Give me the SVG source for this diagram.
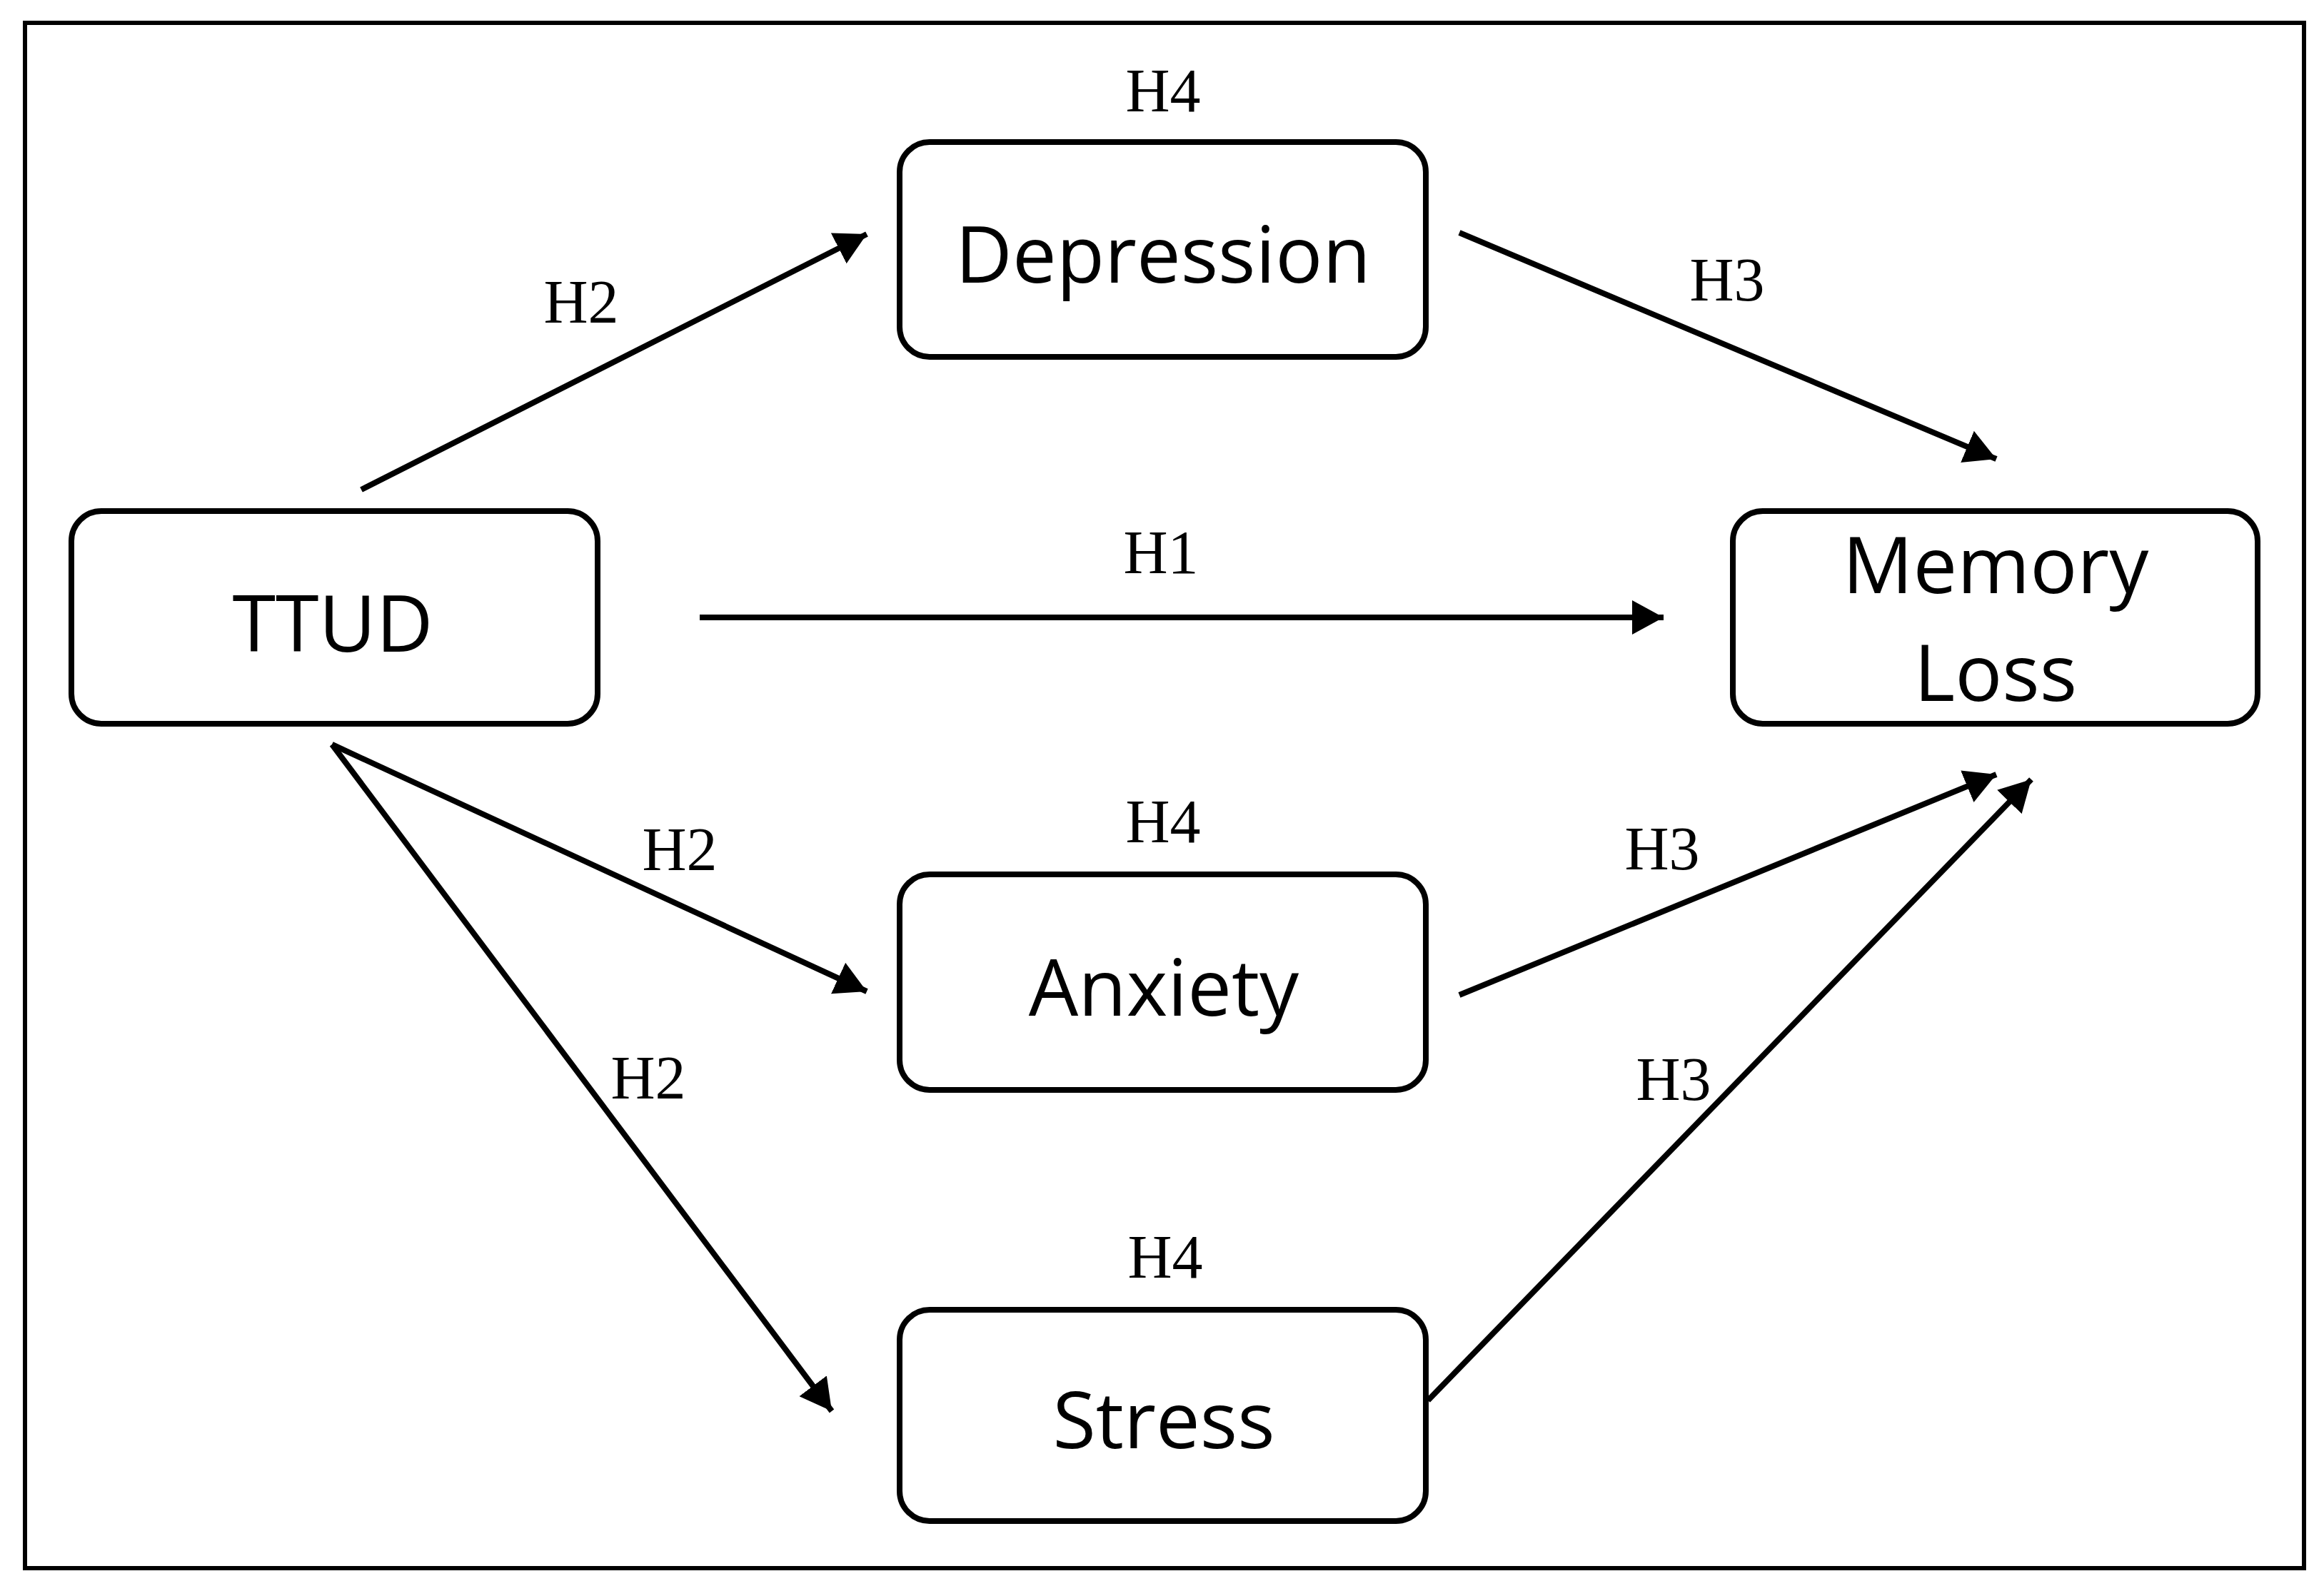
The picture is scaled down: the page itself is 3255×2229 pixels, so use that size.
<svg xmlns="http://www.w3.org/2000/svg" width="3255" height="2229" viewBox="0 0 3255 2229">
<style>
.frame{fill:none;stroke:#000;stroke-width:6}
.box{fill:#fff;stroke:#000;stroke-width:8}
.lbl{font-family:"Open Sans","Noto Sans",sans-serif;font-size:110px;fill:#000;text-anchor:middle}
.h{font-family:"Liberation Serif","Times New Roman",serif;font-size:86px;fill:#000;text-anchor:middle}
.edge{fill:none;stroke:#000;stroke-width:8;marker-end:url(#arr)}
</style>
<defs>
<marker id="arr" markerUnits="userSpaceOnUse" markerWidth="46" markerHeight="48" refX="44" refY="24" orient="auto" viewBox="0 0 46 48">
<path d="M0,0 L44,24 L0,48 z" fill="#000"/>
</marker>
</defs>
<rect width="3255" height="2229" fill="#fff"/>
<rect class="frame" x="35" y="32" width="3192" height="2165"/>
<g id="connectors">
<line class="edge" x1="506" y1="686" x2="1214" y2="328"/>
<line class="edge" x1="2044" y1="326" x2="2796" y2="643"/>
<line class="edge" x1="980" y1="865" x2="2330" y2="865"/>
<line class="edge" x1="465" y1="1043" x2="1214" y2="1389"/>
<line class="edge" x1="465" y1="1043" x2="1165" y2="1977"/>
<line class="edge" x1="2044" y1="1394" x2="2796" y2="1085"/>
<line class="edge" x1="2000" y1="1962" x2="2845" y2="1092"/>
</g>
<g id="edge-labels">
<text class="h" x="814" y="452">H2</text>
<text class="h" x="2419" y="421">H3</text>
<text class="h" x="1626" y="803">H1</text>
<text class="h" x="952" y="1219">H2</text>
<text class="h" x="908" y="1539">H2</text>
<text class="h" x="2328" y="1218">H3</text>
<text class="h" x="2344" y="1541">H3</text>
</g>
<g id="node-ttud">
<rect class="box" x="100" y="716" width="737" height="298" rx="42"/>
<text class="lbl" x="466" y="913">TTUD</text>
</g>
<g id="node-depression">
<text class="h" x="1629" y="156">H4</text>
<rect class="box" x="1260" y="199" width="737" height="301" rx="42"/>
<text class="lbl" x="1629" y="396">Depression</text>
</g>
<g id="node-memory-loss">
<rect class="box" x="2427" y="716" width="735" height="298" rx="42"/>
<text class="lbl" x="2795" y="831">Memory</text>
<text class="lbl" x="2795" y="982">Loss</text>
</g>
<g id="node-anxiety">
<text class="h" x="1629" y="1180">H4</text>
<rect class="box" x="1260" y="1225" width="737" height="302" rx="42"/>
<text class="lbl" x="1630" y="1423">Anxiety</text>
</g>
<g id="node-stress">
<text class="h" x="1632" y="1790">H4</text>
<rect class="box" x="1260" y="1835" width="737" height="296" rx="42"/>
<text class="lbl" x="1630" y="2029">Stress</text>
</g>
</svg>
